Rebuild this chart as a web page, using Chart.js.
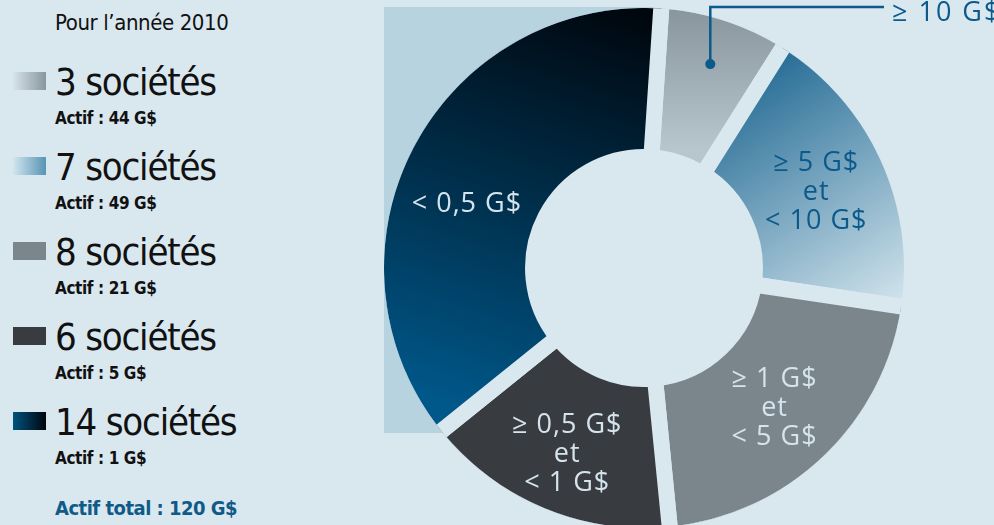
<!DOCTYPE html>
<html lang="fr">
<head>
<meta charset="utf-8">
<title>Sociétés selon l'actif</title>
<script src="https://cdn.jsdelivr.net/npm/chart.js@4.4.1/dist/chart.umd.min.js"></script>
<style>
  html, body { margin: 0; padding: 0; }
  body {
    width: 994px; height: 525px; overflow: hidden; position: relative;
    background: #d9e7ef; color: #111;
    font-family: "DejaVu Sans Condensed", "DejaVu Sans", sans-serif;
  }
  #chart-box { position: absolute; left: 368px; top: -8px; width: 626px; height: 552px; }
  .lg { position: absolute; left: 55px; white-space: nowrap; line-height: 1; }
  .titre { font-size: 22px; letter-spacing: -0.4px; }
  .soc { font-size: 38px; letter-spacing: -1.2px; }
  .actif { font-size: 17px; font-weight: bold; letter-spacing: -0.4px; }
  .total { font-size: 20px; font-weight: bold; letter-spacing: -0.5px; color: #0f5a87; }
  .sw { position: absolute; left: 13px; width: 33px; height: 18px; }
</style>
</head>
<body>
<div id="legend"></div>
<div id="chart-box"><canvas id="donut"></canvas></div>
<script>
// données (année 2010)
const annee = 2010;
const categories = ['≥ 10 G$', '≥ 5 G$ et < 10 G$', '≥ 1 G$ et < 5 G$', '≥ 0,5 G$ et < 1 G$', '< 0,5 G$'];
const societes = [3, 7, 8, 6, 14];
const actifs = [44, 49, 21, 5, 1];

const BG = '#d9e7ef';

// légende à gauche
const swatchFills = [
    'linear-gradient(to right, #d6e3ea, #8a969e)',
    'linear-gradient(to right, #d2e5ef, #5893b4)',
    '#7b858c',
    '#383b3f',
    'linear-gradient(to right, #00527f, #00060c)'
];
let html = '<div class="lg titre" style="top:12px">Pour l’année ' + annee + '</div>';
societes.forEach((n, i) => {
    const base = 95 + 85 * i;
    html += '<div class="sw" style="top:' + (base - 23) + 'px;background:' + swatchFills[i] + '"></div>';
    html += '<div class="lg soc" style="top:' + (base - 32) + 'px">' + n + ' sociétés</div>';
    html += '<div class="lg actif" style="top:' + (base + 15) + 'px">Actif : ' + actifs[i] + ' G$</div>';
});
const total = actifs.reduce((a, b) => a + b, 0);
html += '<div class="lg total" style="top:498px">Actif total : ' + total + ' G$</div>';
document.getElementById('legend').innerHTML = html;

// remplissage des secteurs (dégradés)
function sliceFill(c) {
    const flat = ['#a3b2ba', '#5f98b8', '#7b858c', '#383b3f', '#002a44'];
    const chart = c.chart;
    const a = chart.chartArea;
    if (!a) return flat[c.dataIndex];
    const cx = (a.left + a.right) / 2, cy = (a.top + a.bottom) / 2;
    const g = chart.ctx;
    let gr;
    if (c.dataIndex === 0) {
        gr = g.createLinearGradient(cx, cy - 260, cx, cy - 120);
        gr.addColorStop(0, '#88959d');
        gr.addColorStop(1, '#b7c5cc');
    } else if (c.dataIndex === 1) {
        gr = g.createLinearGradient(cx + 90, cy - 215, cx + 250, cy + 35);
        gr.addColorStop(0, '#17628e');
        gr.addColorStop(1, '#cfe2eb');
    } else if (c.dataIndex === 4) {
        gr = g.createLinearGradient(cx + 20, cy - 260, cx - 120, cy + 165);
        gr.addColorStop(0, '#00040a');
        gr.addColorStop(1, '#00588a');
    } else {
        return flat[c.dataIndex];
    }
    return gr;
}

// fond clair derrière le grand secteur + découpe du cercle
const backdrop = {
    id: 'backdrop',
    beforeDatasetsDraw(chart) {
        const arc = chart.getDatasetMeta(0).data[0];
        const p = arc.getProps(['x', 'y', 'outerRadius', 'innerRadius'], true);
        const ctx = chart.ctx;
        const r = p.outerRadius - 8;
        ctx.save();
        ctx.fillStyle = '#b8d3e0';
        ctx.fillRect(p.x - r, p.y - r - 1, r + 10, r + 166);
        ctx.fillStyle = BG;
        ctx.beginPath();
        ctx.arc(p.x, p.y, p.innerRadius + 1, 0, Math.PI * 2);
        ctx.fill();
        ctx.restore();
        ctx.save();
        ctx.beginPath();
        ctx.arc(p.x, p.y, r, 0, Math.PI * 2);
        ctx.clip();
    },
    afterDatasetsDraw(chart) {
        chart.ctx.restore();
    }
};

// étiquettes dans les secteurs
const sliceLabels = {
    id: 'sliceLabels',
    afterDraw(chart) {
        const ctx = chart.ctx;
        const arcs = chart.getDatasetMeta(0).data;
        ctx.save();
        ctx.font = '27px "Open Sans", "DejaVu Sans", sans-serif';
        ctx.letterSpacing = '1px';
        arcs.forEach((arc, i) => {
            const p = arc.getProps(['x', 'y', 'startAngle', 'endAngle', 'innerRadius', 'outerRadius'], true);
            const frac = i === 4 ? 0.45 : 0.5;
            const ang = p.startAngle + (p.endAngle - p.startAngle) * frac;
            const blue = '#0b5a8b';
            if (i === 0) {
                const rd = p.outerRadius * 0.8;
                const dx = p.x + Math.cos(ang) * rd, dy = p.y + Math.sin(ang) * rd;
                const topY = p.y - p.outerRadius + 7;
                ctx.strokeStyle = blue;
                ctx.fillStyle = blue;
                ctx.lineWidth = 2.5;
                ctx.beginPath();
                ctx.moveTo(dx, dy);
                ctx.lineTo(dx, topY);
                ctx.lineTo(p.x + 240, topY);
                ctx.stroke();
                ctx.beginPath();
                ctx.arc(dx, dy, 5, 0, Math.PI * 2);
                ctx.fill();
                ctx.letterSpacing = '2px';
                ctx.textAlign = 'left';
                ctx.textBaseline = 'alphabetic';
                ctx.fillText(categories[i], p.x + 248, p.y - p.outerRadius + 21);
                ctx.letterSpacing = '1px';
                return;
            }
            const rm = (p.innerRadius + p.outerRadius) / 2 + (i === 3 ? 9 : 0);
            const lx = p.x + Math.cos(ang) * rm, ly = p.y + Math.sin(ang) * rm;
            const lines = categories[i].split(' et ');
            const rows = lines.length > 1 ? [lines[0], 'et', lines[1]] : lines;
            ctx.fillStyle = i === 1 ? blue : '#d5e4ec';
            ctx.textAlign = 'center';
            ctx.textBaseline = 'alphabetic';
            rows.forEach((t, k) => {
                ctx.fillText(t, lx, ly + 11 + (k - (rows.length - 1) / 2) * 29);
            });
        });
        ctx.restore();
    }
};

new Chart(document.getElementById('donut'), {
    type: 'doughnut',
    data: {
        labels: categories,
        datasets: [{
            data: societes,
            backgroundColor: sliceFill,
            borderColor: BG,
            borderWidth: 16,
            hoverOffset: 0
        }]
    },
    options: {
        responsive: true,
        maintainAspectRatio: false,
        animation: false,
        events: [],
        rotation: 3.8,
        cutout: '41.4%',
        layout: { padding: { right: 74 } },
        plugins: {
            legend: { display: false },
            tooltip: { enabled: false }
        }
    },
    plugins: [backdrop, sliceLabels]
});
</script>
</body>
</html>
